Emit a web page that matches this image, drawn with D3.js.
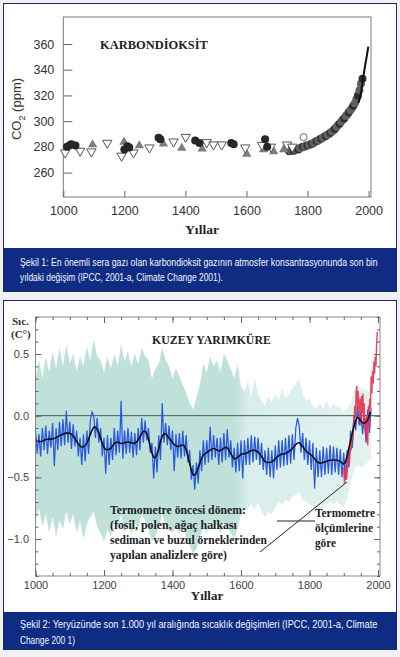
<!DOCTYPE html>
<html><head><meta charset="utf-8">
<script src="https://cdn.jsdelivr.net/npm/d3@7"></script>
<style>body{margin:0;background:#f3f0f4}svg{display:block}</style>
</head><body>
<script>
// ---------- DATA: CO2 chart ----------
const co2Ticks = [260, 280, 300, 320, 340, 360];
const yearTicks = [1000, 1200, 1400, 1600, 1800, 2000];
const co2FilledCircles = [[1012,280],[1020,281],[1026,282],[1040,281],[1200,278],[1210,280.5],[1216,279.5],[1312,287],[1318,286],[1432,285],[1446,283],[1550,283],[1558,282],[1661,286],[1668,280]];
const co2OpenDown = [[1006,275.5],[1055,276.8],[1092,276.3],[1144,283],[1191,273],[1230,275.5],[1282,279.4],[1361,284],[1401,287.6],[1470,283.5],[1492,281.7],[1519,281.7],[1596,279.4],[1651,281.4],[1680,280],[1733,281.7],[1750,280]];
const co2GrayUp = [[1035,281],[1096,281.8],[1199,283.8],[1249,281],[1328,282.3],[1388,279],[1455,278.5],[1601,274.5],[1656,278],[1689,276.4],[1722,278]];
const co2OpenCircles = [[1787,287.6]];
const co2IceCore = [[1740,276.5],[1745,277],[1750,277.5],[1755,277],[1760,278],[1765,278.5],[1770,278],[1775,279],[1780,279.5],[1785,280],[1790,280],[1795,281],[1800,281],[1805,281.5],[1810,282],[1815,282.5],[1820,283],[1825,284],[1830,284.5],[1835,285],[1840,286],[1845,286.5],[1850,287],[1855,288],[1860,288.5],[1865,289.5],[1870,290],[1875,291],[1880,292],[1885,293],[1890,294],[1895,295.5],[1900,297],[1905,298],[1910,299.5],[1915,301],[1920,302],[1925,304],[1930,305],[1935,307],[1940,308.5],[1945,310],[1950,312],[1955,314],[1960,317],[1965,320],[1970,324],[1975,329],[1980,333]];
const co2MaunaLoa = [[1966,314],[1970,317],[1975,322],[1980,330],[1985,338],[1990,345],[1995,352],[1999,358]];

// ---------- DATA: temperature chart ----------
const tempTickLabels = [0.5, 0.0, -0.5, -1.0];
const smoothYears = [1000,1010,1020,1030,1040,1050,1060,1070,1080,1090,1100,1110,1120,1130,1140,1150,1160,1170,1180,1190,1200,1210,1220,1230,1240,1250,1260,1270,1280,1290,1300,1310,1320,1330,1340,1350,1360,1370,1380,1390,1400,1410,1420,1430,1440,1450,1460,1470,1480,1490,1500,1510,1520,1530,1540,1550,1560,1570,1580,1590,1600,1610,1620,1630,1640,1650,1660,1670,1680,1690,1700,1710,1720,1730,1740,1750,1760,1770,1780,1790,1800,1810,1820,1830,1840,1850,1860,1870,1880,1890,1900,1905,1910,1920,1930,1940,1950,1960,1970,1978];
const smoothValues = [-0.20,-0.21,-0.21,-0.19,-0.19,-0.19,-0.18,-0.16,-0.15,-0.14,-0.14,-0.16,-0.21,-0.25,-0.26,-0.23,-0.15,-0.08,-0.10,-0.18,-0.27,-0.28,-0.27,-0.22,-0.21,-0.23,-0.22,-0.21,-0.22,-0.23,-0.20,-0.14,-0.11,-0.18,-0.32,-0.36,-0.27,-0.15,-0.14,-0.18,-0.22,-0.25,-0.25,-0.23,-0.26,-0.39,-0.50,-0.47,-0.38,-0.31,-0.30,-0.28,-0.26,-0.28,-0.29,-0.26,-0.25,-0.31,-0.36,-0.34,-0.31,-0.31,-0.30,-0.28,-0.28,-0.29,-0.33,-0.38,-0.38,-0.38,-0.35,-0.32,-0.31,-0.31,-0.29,-0.27,-0.23,-0.21,-0.25,-0.29,-0.31,-0.33,-0.37,-0.39,-0.38,-0.37,-0.36,-0.36,-0.36,-0.37,-0.40,-0.38,-0.33,-0.20,-0.08,0.01,-0.05,-0.07,-0.04,0.03];
const blueStartYear = 1000; // values every 5 years
const blueValues = [-0.12,-0.30,-0.15,-0.33,-0.10,-0.28,-0.08,-0.31,-0.12,-0.26,-0.06,-0.41,-0.10,-0.28,-0.05,-0.25,-0.03,-0.24,0.04,-0.22,
-0.05,-0.27,-0.07,-0.25,-0.12,-0.33,-0.18,-0.40,-0.15,-0.37,-0.12,-0.31,-0.04,0.03,0.00,-0.18,-0.02,-0.22,-0.10,-0.33,
-0.18,-0.47,-0.16,-0.40,-0.18,-0.36,-0.10,-0.32,-0.12,-0.30,0.12,-0.35,-0.12,-0.31,-0.10,-0.30,-0.13,-0.34,-0.14,-0.32,
-0.10,-0.28,-0.02,-0.22,-0.04,-0.20,-0.10,-0.30,-0.22,-0.51,-0.25,-0.46,-0.16,-0.36,0.10,-0.22,-0.06,-0.24,-0.08,-0.28,
-0.12,-0.45,-0.15,-0.34,-0.14,-0.35,-0.12,-0.33,-0.16,-0.38,-0.28,-0.52,-0.40,-0.60,-0.38,-0.55,-0.28,-0.45,-0.20,-0.40,
-0.20,-0.38,-0.09,-0.36,-0.16,-0.34,-0.18,-0.40,-0.18,-0.38,-0.14,-0.36,-0.11,-0.34,-0.20,-0.42,-0.26,-0.46,-0.22,-0.45,
-0.20,-0.51,-0.20,-0.40,-0.18,-0.40,-0.16,-0.38,-0.17,-0.36,-0.18,-0.40,-0.22,-0.44,-0.28,-0.48,-0.26,-0.50,-0.28,-0.51,
-0.24,-0.44,-0.20,-0.42,-0.20,-0.41,-0.18,-0.40,-0.16,-0.39,-0.15,-0.36,-0.10,-0.02,-0.08,-0.30,-0.14,-0.36,-0.18,-0.40,
-0.20,-0.44,-0.22,-0.59,-0.26,-0.50,-0.28,-0.50,-0.25,-0.48,-0.26,-0.47,-0.24,-0.48,-0.25,-0.46,-0.26,-0.48,-0.27,-0.50,
-0.30,-0.52,-0.28,-0.42,-0.12,-0.26,0.00,-0.12,0.08,-0.08,0.03,-0.15,0.00,-0.22,0.05,-0.14,0.06];
const redYears = [1900,1902,1904,1906,1908,1910,1912,1914,1916,1918,1920,1922,1924,1926,1928,1930,1932,1934,1936,1938,1940,1942,1944,1946,1948,1950,1952,1954,1956,1958,1960,1962,1964,1966,1968,1970,1972,1974,1976,1978,1980,1982,1984,1986,1988,1990,1992,1994,1996,1998];
const redValues = [-0.42,-0.55,-0.48,-0.40,-0.52,-0.45,-0.38,-0.30,-0.40,-0.32,-0.22,-0.28,-0.14,-0.20,-0.06,-0.10,0.08,-0.02,0.18,0.24,0.05,0.20,0.10,-0.04,0.14,-0.08,0.16,0.02,0.18,-0.06,0.10,-0.12,-0.02,-0.20,0.00,-0.24,0.08,-0.10,0.14,0.06,0.32,0.18,0.36,0.26,0.44,0.34,0.48,0.40,0.58,0.68];
const bandStartYear = 1000; // values every 10 years
const bandUpper = [0.30,0.45,0.30,0.48,0.35,0.52,0.38,0.55,0.40,0.58,0.42,0.50,0.36,0.48,0.40,0.56,0.45,0.62,0.48,0.45,
0.35,0.48,0.38,0.50,0.40,0.58,0.44,0.52,0.40,0.50,0.42,0.55,0.48,0.45,0.30,0.38,0.42,0.55,0.45,0.40,
0.30,0.38,0.32,0.25,0.18,0.10,0.05,0.15,0.25,0.42,0.35,0.48,0.40,0.45,0.35,0.50,0.45,0.38,0.30,0.42,
0.24,0.20,0.28,0.15,0.30,0.18,0.12,0.08,0.16,0.10,0.18,0.12,0.22,0.14,0.18,0.22,0.26,0.30,0.18,0.12,
0.14,0.08,0.06,0.10,0.06,0.12,0.05,0.10,0.07,0.06,0.03,0.06,0.10,0.20,0.25,0.22,0.22,0.20,0.18];
const bandLower = [-0.85,-0.75,-0.90,-0.80,-0.95,-0.82,-0.98,-0.85,-0.92,-0.78,-0.88,-0.80,-0.95,-0.85,-1.00,-0.88,-0.82,-0.78,-0.90,-0.95,
-1.02,-0.92,-0.98,-0.85,-0.92,-0.80,-0.95,-0.88,-0.96,-0.86,-0.92,-0.80,-0.85,-0.92,-1.02,-0.98,-0.90,-0.80,-0.88,-0.92,
-0.95,-0.90,-0.96,-0.88,-0.98,-1.05,-1.12,-1.08,-0.98,-0.90,-0.95,-0.85,-0.92,-0.88,-0.96,-0.86,-0.90,-0.95,-1.00,-0.92,
-0.80,-0.78,-0.75,-0.72,-0.76,-0.70,-0.78,-0.82,-0.78,-0.80,-0.74,-0.70,-0.72,-0.68,-0.70,-0.66,-0.64,-0.62,-0.68,-0.70,
-0.72,-0.74,-0.78,-0.76,-0.74,-0.72,-0.70,-0.72,-0.70,-0.72,-0.74,-0.68,-0.55,-0.45,-0.40,-0.42,-0.40,-0.38,-0.35];

// ---------- TEXT ----------
const caption1 = ["Şekil 1: En önemli sera gazı olan karbondioksit gazının atmosfer konsantrasyonunda son bin", "yıldaki değişim  (IPCC, 2001-a, Climate Change 2001)."];
const caption2 = ["Şekil 2: Yeryüzünde son 1.000 yıl aralığında sıcaklık değişimleri (IPCC, 2001-a, Climate", "Change 200 1)"];
const noteLeft = ["Termometre öncesi dönem:", "(fosil, polen, ağaç halkası", "sediman ve buzul örneklerinden", "yapılan analizlere göre)"];
const noteRight = ["Termometre", "ölçümlerine", "göre"];

const SANS = "'Liberation Sans', Arial, sans-serif";
const SERIF = "'Liberation Serif', 'Times New Roman', serif";
const NAVY = "#0e2c82";

const svg = d3.select("body").append("svg").attr("width", 400).attr("height", 657);
svg.append("rect").attr("width", 400).attr("height", 657).attr("fill", "#f3f0f4");

// text squeezed horizontally to a target width (condensed look)
function fitText(parent, str, x, y, width, attrs) {
  const t = parent.append("text").attr("x", 0).attr("y", 0).text(str);
  Object.entries(attrs).forEach(([k, v]) => t.attr(k, v));
  const w = t.node().getComputedTextLength();
  const s = Math.min(1.15, width / w);
  t.attr("transform", `translate(${x},${y}) scale(${s},1)`);
  return t;
}

// panels
svg.append("rect").attr("x", 3.5).attr("y", 3.5).attr("width", 393).attr("height", 288).attr("fill", "#fff").attr("stroke", "#1b2b5b");
svg.append("rect").attr("x", 4).attr("y", 248).attr("width", 392).attr("height", 43.5).attr("fill", NAVY);
svg.append("rect").attr("x", 3.5).attr("y", 300.5).attr("width", 393).attr("height", 349).attr("fill", "#fff").attr("stroke", "#1b2b5b");
svg.append("rect").attr("x", 4).attr("y", 612).attr("width", 392).attr("height", 37.5).attr("fill", NAVY);

const capAttrs = { "font-family": SANS, "font-size": 11, "fill": "#f4f6ff" };
fitText(svg, caption1[0], 20, 266, 358, capAttrs);
fitText(svg, caption1[1], 20, 280.5, 203, capAttrs);
fitText(svg, caption2[0], 20, 628, 358, capAttrs);
fitText(svg, caption2[1], 20, 644, 55, capAttrs);

// ---------- CO2 chart ----------
const x1 = d3.scaleLinear().domain([1000, 2000]).range([63.3, 368.6]);
const y1 = d3.scaleLinear().domain([241, 381]).range([197, 17]);
const g1 = svg.append("g");
g1.append("rect").attr("x", 63.3).attr("y", 17).attr("width", 371 - 63.3).attr("height", 180)
  .attr("fill", "none").attr("stroke", "#7a7a7a");

const ax1 = g1.append("g").attr("transform", "translate(63.3,0)")
  .call(d3.axisLeft(y1).tickValues(co2Ticks).tickSize(-9).tickPadding(9));
const bx1 = g1.append("g").attr("transform", "translate(0,197)")
  .call(d3.axisBottom(x1).tickValues(yearTicks).tickSize(-6).tickPadding(9).tickFormat(d3.format("d")));
[ax1, bx1].forEach(a => {
  a.select(".domain").remove();
  a.selectAll("line").attr("stroke", "#666");
  a.selectAll("text").attr("font-family", SANS).attr("font-size", 12.5).attr("fill", "#333");
});

g1.append("text").attr("transform", "translate(21,109) rotate(-90)").attr("text-anchor", "middle")
  .attr("font-family", SANS).attr("font-size", 13).attr("fill", "#333")
  .call(t => { t.append("tspan").text("CO"); t.append("tspan").text("2").attr("font-size", 9).attr("dy", 4); t.append("tspan").text(" (ppm)").attr("dy", -4); });
g1.append("text").attr("x", 202).attr("y", 233.5).attr("text-anchor", "middle").text("Yıllar")
  .attr("font-family", SERIF).attr("font-weight", "bold").attr("font-size", 13.5).attr("fill", "#222");
const serifB = { "font-family": SERIF, "font-weight": "bold", "font-size": 12.5, "fill": "#222" };
fitText(g1, "KARBONDİOKSİT", 100, 49, 108, serifB);

// ice core cluster
g1.selectAll("circle.ice").data(co2IceCore).join("circle").attr("class", "ice")
  .attr("cx", d => x1(d[0])).attr("cy", d => y1(d[1])).attr("r", 4)
  .attr("fill", (d, i) => i % 3 === 0 ? "#2e2e2e" : "#5f5f5f");
const tri = d3.symbol().type(d3.symbolTriangle).size(38);
g1.selectAll("path.up").data(co2GrayUp).join("path").attr("class", "up").attr("d", tri)
  .attr("transform", d => `translate(${x1(d[0])},${y1(d[1])})`).attr("fill", "#7d7d7d");
g1.selectAll("path.down").data(co2OpenDown).join("path").attr("class", "down").attr("d", tri)
  .attr("transform", d => `translate(${x1(d[0])},${y1(d[1])}) rotate(180)`).attr("fill", "#fff").attr("stroke", "#555").attr("stroke-width", 1);
g1.selectAll("circle.fc").data(co2FilledCircles).join("circle").attr("class", "fc")
  .attr("cx", d => x1(d[0])).attr("cy", d => y1(d[1])).attr("r", 4).attr("fill", "#262626");
g1.selectAll("circle.oc").data(co2OpenCircles).join("circle").attr("class", "oc")
  .attr("cx", d => x1(d[0])).attr("cy", d => y1(d[1])).attr("r", 3.5).attr("fill", "#fff").attr("stroke", "#666");
g1.append("path").datum(co2MaunaLoa).attr("fill", "none").attr("stroke", "#111").attr("stroke-width", 2)
  .attr("d", d3.line().x(d => x1(d[0])).y(d => y1(d[1])).curve(d3.curveMonotoneX));

// ---------- temperature chart ----------
const x2 = d3.scaleLinear().domain([1000, 2000]).range([35.5, 378]);
const y2 = d3.scaleLinear().domain([-1.3, 0.8]).range([576, 317]);
const g2 = svg.append("g");

const defs = svg.append("defs");
const grad = defs.append("linearGradient").attr("id", "bandGrad").attr("gradientUnits", "userSpaceOnUse")
  .attr("x1", x2(1000)).attr("x2", x2(2000)).attr("y1", 0).attr("y2", 0);
grad.append("stop").attr("offset", 0).attr("stop-color", "#bfe1da");
grad.append("stop").attr("offset", 0.58).attr("stop-color", "#bfe1da");
grad.append("stop").attr("offset", 0.62).attr("stop-color", "#d8eeea");
grad.append("stop").attr("offset", 1).attr("stop-color", "#e2f2ef");

const band = bandUpper.map((u, i) => ({ year: bandStartYear + i * 10, u, l: bandLower[i] }));
g2.append("path").datum(band).attr("fill", "url(#bandGrad)")
  .attr("d", d3.area().x(d => x2(d.year)).y0(d => y2(d.l)).y1(d => y2(d.u)));

g2.append("line").attr("x1", 35.5).attr("x2", 380).attr("y1", y2(0)).attr("y2", y2(0))
  .attr("stroke", "#3f5f55").attr("stroke-width", 1);

const blue = blueValues.map((v, i) => [blueStartYear + i * 5, v]);
const line2 = d3.line().x(d => x2(d[0])).y(d => y2(d[1]));
g2.append("path").datum(blue).attr("fill", "none").attr("stroke", "#2858e4").attr("stroke-width", 1.25).attr("d", line2);
const red = redYears.map((y, i) => [y, redValues[i]]);
g2.append("path").datum(red).attr("fill", "none").attr("stroke", "#e8304f").attr("stroke-width", 1.4).attr("opacity", 0.9).attr("d", line2);
const smooth = smoothYears.map((y, i) => [y, smoothValues[i]]);
g2.append("path").datum(smooth).attr("fill", "none").attr("stroke", "#111").attr("stroke-width", 1.6)
  .attr("d", d3.line().x(d => x2(d[0])).y(d => y2(d[1])).curve(d3.curveBasis));

// frame and ticks
g2.append("rect").attr("x", 35.5).attr("y", 317).attr("width", 380 - 35.5).attr("height", 576 - 317)
  .attr("fill", "none").attr("stroke", "#8a8a8a");
const minorT = d3.range(-13, 9).map(v => v / 10);
const minorY = d3.range(1000, 2001, 50);
const axes = [
  g2.append("g").attr("transform", "translate(35.5,0)").call(d3.axisLeft(y2).tickValues(minorT).tickSize(-3).tickFormat("")),
  g2.append("g").attr("transform", "translate(380,0)").call(d3.axisRight(y2).tickValues(minorT).tickSize(-3).tickFormat("")),
  g2.append("g").attr("transform", "translate(0,317)").call(d3.axisTop(x2).tickValues(minorY).tickSize(-3).tickFormat("")),
  g2.append("g").attr("transform", "translate(0,576)").call(d3.axisBottom(x2).tickValues(minorY).tickSize(-3).tickFormat("")),
  g2.append("g").attr("transform", "translate(35.5,0)").call(d3.axisLeft(y2).tickValues(tempTickLabels).tickSize(-6).tickPadding(6.5).tickFormat(d3.format(".1f"))),
  g2.append("g").attr("transform", "translate(380,0)").call(d3.axisRight(y2).tickValues(tempTickLabels).tickSize(-6).tickFormat("")),
  g2.append("g").attr("transform", "translate(0,317)").call(d3.axisTop(x2).tickValues(yearTicks).tickSize(-6).tickFormat("")),
  g2.append("g").attr("transform", "translate(0,576)").call(d3.axisBottom(x2).tickValues(yearTicks).tickSize(-6).tickPadding(5).tickFormat(d3.format("d")))
];
axes.forEach(a => {
  a.select(".domain").remove();
  a.selectAll("line").attr("stroke", "#666");
  a.selectAll("text").attr("font-family", SANS).attr("font-size", 11).attr("fill", "#444");
});

g2.append("text").attr("x", 207).attr("y", 599.5).attr("text-anchor", "middle").text("Yıllar")
  .attr("font-family", SERIF).attr("font-weight", "bold").attr("font-size", 13).attr("fill", "#222");
g2.append("text").attr("x", 12).attr("y", 325).text("Sıc.")
  .attr("font-family", SERIF).attr("font-weight", "bold").attr("font-size", 11).attr("fill", "#333");
g2.append("text").attr("x", 11).attr("y", 338).text("(C°)")
  .attr("font-family", SERIF).attr("font-weight", "bold").attr("font-size", 11).attr("fill", "#333");
fitText(g2, "KUZEY YARIMKÜRE", 152, 343.5, 119, { "font-family": SERIF, "font-weight": "bold", "font-size": 12, "fill": "#222" });

const noteAttrs = { "font-family": SERIF, "font-weight": "bold", "font-size": 12, "fill": "#222" };
const leftW = [136, 127, 157, 117];
noteLeft.forEach((t, i) => fitText(g2, t, 110, 514 + i * 15, leftW[i], noteAttrs));
const rightW = [60, 58, 21];
noteRight.forEach((t, i) => fitText(g2, t, 315, 517 + i * 15, rightW[i], noteAttrs));
g2.append("line").attr("x1", 260).attr("y1", 552).attr("x2", 347).attr("y2", 482).attr("stroke", "#222");
g2.append("line").attr("x1", 277).attr("y1", 521).attr("x2", 315).attr("y2", 521).attr("stroke", "#222");
</script>
</body></html>
